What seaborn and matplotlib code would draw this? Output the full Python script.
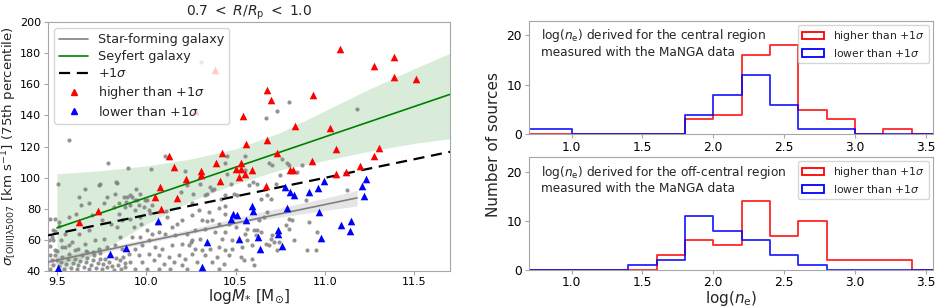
import matplotlib
matplotlib.use("Agg")
import numpy as np
import pandas as pd
import matplotlib.pyplot as plt
import seaborn as sns
from matplotlib.lines import Line2D
from matplotlib.patches import Patch

# ---- left panel: sigma([OIII]) vs stellar mass ----
# star-forming galaxies (grey dots)
sf_x = [10.309, 9.565, 9.784, 9.896, 10.029, 9.506, 9.737, 9.836, 10.80, 10.73, 10.67, 11.18,
        10.107, 10.215, 10.453, 10.443, 10.55, 10.55, 10.30, 10.355, 10.37, 9.655, 9.743, 9.832, 9.94,
        9.621, 9.634, 9.608, 9.565, 9.509, 9.49, 9.677, 9.761, 9.78, 9.827, 9.696, 9.752, 9.80, 9.836,
        9.621, 9.547, 9.677, 9.715, 9.761, 9.659, 9.584, 9.48, 9.49, 9.547, 9.603, 9.668, 9.733, 9.78, 9.827,
        9.873, 9.911, 9.939, 9.957, 9.883, 9.845, 9.995, 10.032, 9.939, 10.013, 9.967, 9.911, 9.864,
        10.117, 10.173, 10.145, 10.20, 10.004, 10.032, 10.07, 10.107, 9.967, 9.92, 9.855, 10.013, 9.976,
        9.939, 10.051, 10.089, 10.145, 10.20, 9.864, 9.901, 9.957, 10.013, 10.07, 10.126, 10.182, 10.219,
        9.855, 9.911, 9.976, 10.042, 10.098, 10.154, 10.20, 9.883, 9.939, 10.004, 10.07, 10.135, 10.229,
        10.331, 10.443, 10.509, 10.257, 10.294, 10.35, 10.406, 10.443, 10.257, 10.313, 10.369, 10.406,
        10.462, 10.50, 10.565, 10.602, 10.331, 10.275, 10.229, 10.387, 10.443, 10.555, 10.257, 10.303,
        10.425, 10.481, 10.565, 10.238, 10.275, 10.313, 10.359, 10.406, 10.443, 10.481, 10.537, 10.593,
        10.257, 10.331, 10.397, 10.462, 10.528, 10.593, 10.285, 10.369, 10.434, 10.546, 10.602, 10.406, 10.50,
        10.686, 10.705, 10.761, 10.798, 10.621, 10.724, 10.677, 10.892, 11.126, 10.677, 10.658, 10.63,
        10.798, 10.817, 10.91, 10.621, 10.64, 10.78, 10.798, 10.957, 10.705, 10.696, 10.714, 10.668,
        10.742, 10.826, 10.686, 10.733, 10.901, 10.948, 10.612,
        9.893, 9.884, 9.92, 9.91, 9.967, 9.949, 9.986, 10.005, 9.846, 9.818,
        10.229, 10.263, 10.192, 10.341, 10.379, 10.453, 10.473, 10.421, 10.49, 10.575, 10.60, 10.64,
        10.696, 10.75, 10.79, 10.846, 10.874, 9.463, 9.48, 9.453,
        9.46, 9.48, 9.47, 9.49, 9.51, 9.52, 9.53, 9.54, 9.55, 9.56, 9.57, 9.58, 9.59, 9.60, 9.61, 9.62,
        9.63, 9.64, 9.65, 9.66, 9.67, 9.68, 9.69, 9.70, 9.71, 9.72, 9.73, 9.74, 9.75, 9.76, 9.77, 9.78,
        9.79, 9.81, 9.82, 9.83, 9.84, 9.86, 9.87, 9.88, 9.50, 9.53, 9.57, 9.62, 9.66, 9.46, 9.47, 9.52,
        9.49, 9.51, 9.70, 9.74, 9.46, 9.50, 9.93, 9.97, 10.02, 10.06, 10.11, 10.16, 10.25, 10.34, 10.44]
sf_y = [174.5, 124.1, 109.1, 106.1, 105.6, 96.0, 95.5, 96.6, 148.7, 142.9, 138.0, 144.4,
        113.8, 104.2, 113.8, 109.5, 113.8, 104.8, 95.8, 93.7, 92.0, 93.0, 95.6, 96.9, 92.4,
        87.6, 82.3, 76.9, 74.7, 71.5, 73.7, 83.4, 83.4, 87.6, 89.8, 75.8, 72.6, 70.5, 68.3,
        64.1, 64.1, 66.2, 59.8, 60.8, 57.6, 58.7, 59.8, 53.3, 55.4, 53.3, 52.2, 54.4, 55.4, 56.5,
        87.6, 88.7, 85.5, 82.3, 81.2, 83.4, 85.5, 82.3, 79.1, 79.1, 74.7, 73.7, 72.6,
        74.7, 70.5, 68.3, 72.6, 66.2, 64.1, 65.1, 64.1, 61.9, 61.9, 61.9, 59.8, 56.5,
        54.4, 55.4, 54.4, 56.5, 57.6, 54.4, 51.2, 50.1, 51.2, 50.1, 49.0, 50.1, 48.0,
        46.9, 45.8, 45.8, 46.9, 44.8, 45.8, 43.7, 42.6, 41.5, 41.5, 41.5, 41.5, 41.5,
        88.7, 88.7, 88.7, 83.4, 79.1, 78.0, 80.2, 76.9, 75.8, 72.6, 72.6, 70.5,
        70.5, 68.3, 67.3, 66.2, 67.3, 66.2, 64.1, 65.1, 65.1, 64.1, 59.8, 60.8,
        60.8, 59.8, 59.8, 56.5, 54.4, 53.3, 54.4, 55.4, 53.3, 54.4, 55.4, 56.5,
        51.2, 50.1, 49.0, 50.1, 49.0, 48.0, 45.8, 45.8, 44.8, 46.9, 43.7, 41.5, 40.5,
        109.1, 108.0, 112.3, 108.0, 96.2, 96.2, 88.7, 85.5, 91.9, 78.0, 74.7, 72.6,
        73.7, 72.6, 71.5, 66.2, 65.1, 69.4, 67.3, 65.1, 63.0, 60.8, 58.7, 57.6,
        58.7, 59.8, 56.5, 53.3, 53.3, 53.8, 63.0,
        87.6, 84.4, 87.6, 82.3, 89.8, 85.5, 81.2, 85.5, 76.9, 81.2,
        95.1, 89.8, 90.8, 89.8, 93.0, 102.6, 96.2, 86.3, 89.8, 95.1, 97.3, 86.5,
        86.5, 101.6, 109.1, 103.7, 107.9, 73.7, 66.2, 59.7,
        41.0, 44.0, 47.0, 50.0, 43.0, 46.0, 49.0, 41.5, 44.5, 47.5, 51.0, 42.0, 45.0, 48.0, 41.0, 44.0,
        46.5, 50.0, 42.5, 45.5, 48.5, 41.0, 44.0, 47.0, 50.5, 42.0, 45.0, 48.0, 41.5, 44.5, 47.5, 42.5,
        46.0, 43.5, 40.8, 48.5, 44.0, 41.5, 49.0, 45.0, 53.0, 55.5, 57.0, 54.0, 53.0, 56.0, 62.0, 60.0,
        66.0, 69.0, 52.5, 51.5, 50.0, 47.0, 68.5, 70.0, 77.0, 71.0, 78.5, 63.0, 58.5, 72.0, 82.0]

# Seyferts above the +1 sigma line
hi_x = [11.085, 11.272, 11.388, 11.388, 11.509, 10.678, 10.700, 10.934, 10.541, 10.831, 11.029,
        10.561, 10.673, 11.063, 11.300, 10.425, 10.730, 11.272, 10.126, 10.393, 10.154, 10.528,
        10.930, 10.50, 10.53, 10.52, 10.55, 10.59, 10.304, 10.304, 10.221, 10.410, 10.805, 10.823,
        11.195, 11.063, 11.117, 10.050, 10.078, 10.080, 10.173, 10.672, 9.730, 9.625, 10.384, 10.27]
hi_y = [182.6, 171.9, 177.7, 164.4, 163.3, 156.2, 150.2, 153.0, 139.5, 133.3, 131.8,
        121.3, 124.3, 118.3, 118.9, 115.9, 116.1, 113.8, 113.8, 109.3, 106.9, 109.1,
        110.6, 105.4, 105.4, 100.5, 102.4, 104.8, 104.1, 101.6, 99.4, 97.9, 105.2, 104.8,
        107.8, 102.6, 103.7, 87.6, 93.8, 79.7, 86.8, 94.5, 78.4, 71.7, 169.3, 142.7]

# Seyferts below the +1 sigma line
lo_x = [11.229, 11.205, 11.220, 10.995, 10.961, 10.912, 10.775, 10.805, 10.828, 10.786, 10.966,
        10.592, 10.600, 10.487, 10.509, 10.473, 10.556, 10.063, 11.089, 11.145, 11.141, 10.739,
        10.737, 10.519, 10.625, 10.978, 10.762, 10.636, 10.341, 9.887, 9.799, 9.506, 10.313]
lo_y = [99.0, 94.5, 88.3, 97.7, 93.6, 90.6, 94.3, 90.6, 89.1, 80.8, 77.7,
        81.8, 78.6, 76.9, 76.2, 73.7, 72.6, 72.2, 69.8, 72.4, 65.5, 66.6,
        63.6, 60.8, 61.9, 61.0, 55.9, 54.2, 58.4, 54.6, 50.9, 41.9, 42.6]

# fitted relations and their confidence bands
sf_fit_x = [9.45, 11.18]
sf_fit_y = [45.8, 87.0]
sf_band_x = [9.45, 9.8, 10.2, 10.6, 11.0, 11.18]
sf_band_lo = [43.0, 52.8, 62.8, 72.0, 79.0, 81.8]
sf_band_hi = [48.3, 55.8, 65.6, 76.8, 86.8, 91.8]

sy_fit_x = [9.5, 11.7]
sy_fit_y = [67.7, 153.5]
sy_band_x = [9.5, 9.75, 10.0, 10.25, 10.5, 10.75, 11.0, 11.25, 11.5, 11.7]
sy_band_lo = [38.0, 53.0, 70.0, 85.0, 96.0, 105.0, 111.0, 117.0, 122.0, 125.0]
sy_band_hi = [102.5, 104.5, 107.5, 112.0, 118.5, 129.0, 143.0, 157.0, 170.0, 180.0]

sig_x = [9.45, 11.7]
sig_y = [62.9, 116.6]

# ---- right panels: log(n_e) histograms ----
ne_edges = [0.6, 0.8, 1.0, 1.2, 1.4, 1.6, 1.8, 2.0, 2.2, 2.4, 2.6, 2.8, 3.0, 3.2, 3.4, 3.6]
central_hi = [0, 0, 0, 0, 0, 0, 3, 4, 16, 18, 5, 3, 0, 1, 0]
central_lo = [1, 1, 0, 0, 0, 0, 4, 8, 12, 6, 1, 1, 0, 0, 0]
offc_hi = [0, 0, 0, 0, 0, 3, 6, 5, 14, 7, 10, 2, 2, 2, 0]
offc_lo = [0, 0, 0, 0, 1, 2, 11, 8, 6, 3, 1, 0, 0, 0, 0]

sns.set_style("ticks")
plt.rcParams['font.family'] = ['DejaVu Sans']
plt.rcParams['axes.edgecolor'] = '0.65'
plt.rcParams['xtick.color'] = '0.65'
plt.rcParams['ytick.color'] = '0.65'
plt.rcParams['xtick.labelcolor'] = 'black'
plt.rcParams['ytick.labelcolor'] = 'black'
plt.rcParams['xtick.major.size'] = 3
plt.rcParams['ytick.major.size'] = 3
plt.rcParams['xtick.major.pad'] = 1.5
plt.rcParams['ytick.major.pad'] = 2

fig = plt.figure(figsize=(9.43, 3.08), dpi=100)
ax = fig.add_axes([0.0509, 0.120, 0.4263, 0.8086])

sns.scatterplot(x=sf_x, y=sf_y, ax=ax, color='gray', s=9, linewidth=0, alpha=0.85, zorder=2)
ax.fill_between(sy_band_x, sy_band_lo, sy_band_hi, color='green', alpha=0.15, linewidth=0, zorder=1)
ax.fill_between(sf_band_x, sf_band_lo, sf_band_hi, color='gray', alpha=0.2, linewidth=0, zorder=3)
sns.lineplot(x=sf_fit_x, y=sf_fit_y, ax=ax, color='gray', lw=1.2, zorder=4)
sns.lineplot(x=sy_fit_x, y=sy_fit_y, ax=ax, color='green', lw=1.2, zorder=4)
sns.lineplot(x=sig_x, y=sig_y, ax=ax, color='black', lw=1.6, linestyle=(0, (5, 3)), zorder=4)
sns.scatterplot(x=hi_x, y=hi_y, ax=ax, color='red', marker='^', s=30, linewidth=0, zorder=5)
sns.scatterplot(x=lo_x, y=lo_y, ax=ax, color='blue', marker='^', s=30, linewidth=0, zorder=5)

ax.set_xlim(9.45, 11.7)
ax.set_ylim(40, 200)
ax.set_xticks([9.5, 10.0, 10.5, 11.0, 11.5])
ax.set_yticks([40, 60, 80, 100, 120, 140, 160, 180, 200])
ax.tick_params(labelsize=8)
ax.set_xlabel(r"log$M_{*}$ [M$_{\odot}$]", fontsize=11, labelpad=0)
ax.set_ylabel(r"$\sigma_{\rm [OIII]\lambda5007}$ [km s$^{-1}$] (75th percentile)", fontsize=9.6, labelpad=0.5)
ax.set_title(r"0.7 $<$ $R/R_{\rm p}$ $<$ 1.0", fontsize=10, pad=4)

handles = [Line2D([], [], color='gray', lw=1.2),
           Line2D([], [], color='green', lw=1.2),
           Line2D([], [], color='black', lw=1.6, linestyle=(0, (5, 3))),
           Line2D([], [], color='red', marker='^', linestyle='none', markersize=4.5),
           Line2D([], [], color='blue', marker='^', linestyle='none', markersize=4.5)]
labels = ["Star-forming galaxy", "Seyfert galaxy", r"+1$\sigma$",
          r"higher than +1$\sigma$", r"lower than +1$\sigma$"]
ax.legend(handles, labels, loc='upper left', fontsize=9.2, handlelength=2.2,
          borderaxespad=0.5, labelspacing=0.3)

# ---- histograms ----
centers = [(a + b) / 2 for a, b in zip(ne_edges[:-1], ne_edges[1:])]
ax_top = fig.add_axes([0.561, 0.564, 0.4284, 0.369])
ax_bot = fig.add_axes([0.561, 0.1234, 0.4284, 0.3676])

panels = [(ax_top, central_hi, central_lo, "central"),
          (ax_bot, offc_hi, offc_lo, "off-central")]
for axh, hi, lo, region in panels:
    sns.histplot(x=centers, weights=hi, bins=ne_edges, element='step', fill=False,
                 color='red', lw=1.3, alpha=0.85, ax=axh)
    sns.histplot(x=centers, weights=lo, bins=ne_edges, element='step', fill=False,
                 color='blue', lw=1.3, alpha=0.85, ax=axh)
    axh.set_xlim(0.7, 3.55)
    axh.set_ylim(0, 23)
    axh.set_xticks([1.0, 1.5, 2.0, 2.5, 3.0, 3.5])
    axh.set_yticks([0, 10, 20])
    axh.tick_params(labelsize=8.8)
    axh.set_ylabel("")
    axh.set_xlabel("")
    axh.text(0.03, 0.94, r"log($n_{\rm e}$) derived for the " + region + " region" + "\nmeasured with the MaNGA data",
             transform=axh.transAxes, va='top', ha='left', fontsize=8.7, linespacing=1.15)
    leg_h = [Patch(facecolor='white', edgecolor='red', lw=1.3),
             Patch(facecolor='white', edgecolor='blue', lw=1.3)]
    axh.legend(leg_h, [r"higher than +1$\sigma$", r"lower than +1$\sigma$"],
               loc='upper right', fontsize=7.8, borderaxespad=0.4, labelspacing=0.3)

ax_bot.set_xlabel(r"log($n_{\rm e}$)", fontsize=11, labelpad=0)
fig.text(0.523, 0.53, "Number of sources", rotation=90, va='center', ha='center', fontsize=11)

fig.savefig("out.png", dpi=100)
